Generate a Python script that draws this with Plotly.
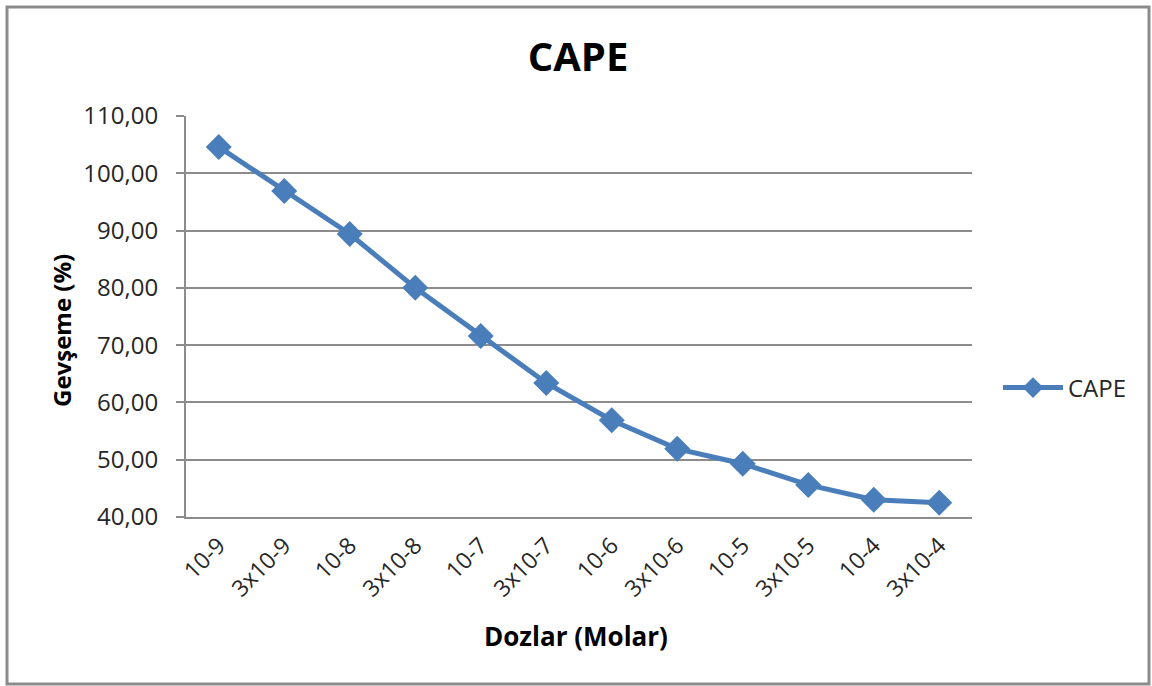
import plotly.graph_objects as go

# Doses (molar) and relaxation (%) for CAPE
doses = ["10-9", "3x10-9", "10-8", "3x10-8", "10-7", "3x10-7",
         "10-6", "3x10-6", "10-5", "3x10-5", "10-4", "3x10-4"]
relaxation = [104.6, 96.9, 89.4, 80.0, 71.6, 63.4,
              56.9, 51.9, 49.3, 45.6, 43.0, 42.5]
y_ticks = [40, 50, 60, 70, 80, 90, 100, 110]
y_tick_text = ["40,00", "50,00", "60,00", "70,00", "80,00", "90,00", "100,00", "110,00"]

BLUE = "#4A7EBB"
GRID = "#8C8C8C"
TEXT = "#262626"
FONT = "Open Sans"

fig = go.Figure()
fig.add_trace(go.Scatter(
    x=doses, y=relaxation, name="CAPE", mode="lines+markers",
    line=dict(color=BLUE, width=5),
    marker=dict(symbol="diamond", size=20, color=BLUE),
))

W, H = 1152, 686
L, R, T, B = 186, 180, 116, 169
pw, ph = W - L - R, H - T - B

def px_x(x):
    return (x - L) / pw

def px_y(y):
    return (H - B - y) / ph

fig.update_layout(
    width=W, height=H,
    margin=dict(l=L, r=R, t=T, b=B),
    paper_bgcolor="white", plot_bgcolor="white",
    font=dict(family=FONT, size=22, color=TEXT),
    title=dict(text="<b>CAPE</b>", x=px_x(578), xref="paper", xanchor="center",
               y=1 - 57 / H, yanchor="middle",
               font=dict(family=FONT, size=40, color="black")),
    showlegend=True,
    legend=dict(x=px_x(998), xanchor="left", y=px_y(388), yanchor="middle",
                font=dict(family=FONT, size=24, color=TEXT),
                bgcolor="rgba(0,0,0,0)", itemwidth=60),
    xaxis=dict(
        type="category", range=[-0.5, len(doses) - 0.5],
        showgrid=False, showline=True, linecolor=GRID, linewidth=2,
        ticks="", tickangle=-45, tickfont=dict(family=FONT, size=23, color=TEXT),
        ticklabelstandoff=4,
        zeroline=False,
    ),
    yaxis=dict(
        range=[40, 110], tickvals=y_ticks, ticktext=y_tick_text,
        showgrid=True, gridcolor=GRID, gridwidth=1.5,
        showline=True, linecolor=GRID, linewidth=2,
        ticks="outside", ticklen=8, tickcolor=GRID, tickwidth=1.5,
        tickfont=dict(family=FONT, size=24, color=TEXT),
        ticklabelstandoff=13,
        zeroline=False,
    ),
    annotations=[
        dict(text="<b>Gevşeme (%)</b>", xref="paper", yref="paper",
             x=px_x(61), y=px_y(331), textangle=-90, showarrow=False,
             xanchor="center", yanchor="middle",
             font=dict(family=FONT, size=24, color="black")),
        dict(text="<b>Dozlar (Molar)</b>", xref="paper", yref="paper",
             x=px_x(576), y=px_y(636), showarrow=False,
             xanchor="center", yanchor="middle",
             font=dict(family=FONT, size=26, color="black")),
    ],
    shapes=[
        dict(type="rect", xref="paper", yref="paper",
             x0=px_x(7), x1=px_x(1149), y0=px_y(684), y1=px_y(7),
             line=dict(color="#8C8C8C", width=3), layer="below"),
    ],
)

fig.write_html("out.html")
